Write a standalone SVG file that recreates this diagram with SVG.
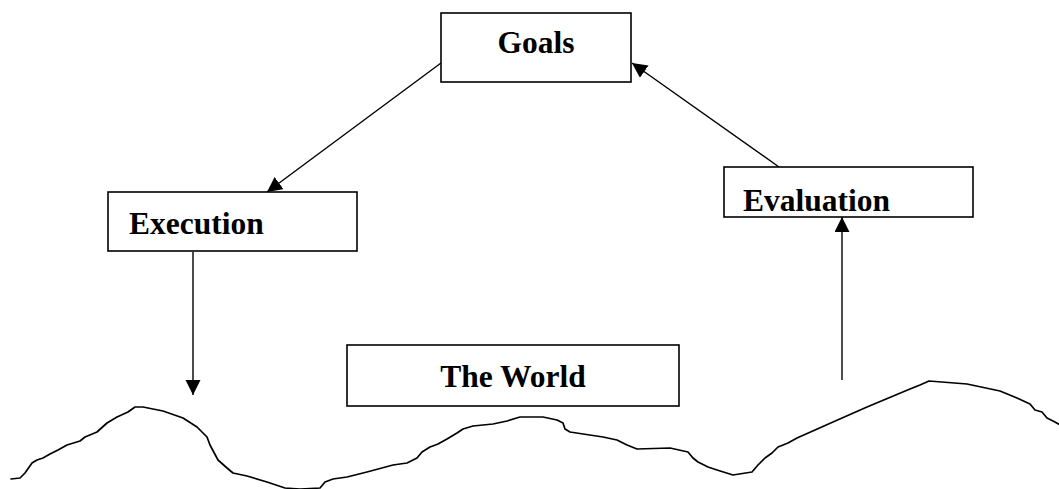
<svg xmlns="http://www.w3.org/2000/svg" width="1059" height="489" viewBox="0 0 1059 489">
  <style>
    .box { fill: #fff; stroke: #000; stroke-width: 1.6; }
    .label { font-family: "Liberation Serif", "Times New Roman", serif; font-weight: bold; font-size: 31.5px; fill: #000; }
    .conn { fill: none; stroke: #000; stroke-width: 1.4; }
    .ground { fill: none; stroke: #000; stroke-width: 1.7; stroke-linejoin: round; stroke-linecap: round; }
  </style>
  <defs>
    <marker id="arrow" markerUnits="userSpaceOnUse" markerWidth="16" markerHeight="16" refX="15" refY="7.5" orient="auto">
      <path d="M0,0 L15,7.5 L0,15 Z" fill="#000"/>
    </marker>
  </defs>

  <rect width="1059" height="489" fill="#fff"/>

  <!-- ground line -->
  <path class="ground" d="M11,479 L20,478 L25,473 L32,463 L37,460 L43,458 L50,454 L58,450 L67,445 L80,441 L85,437 L97,432 L107,423 L117,417 L128,412 L135,407 L143,407 L163,411 L183,418 L197,427 L207,437 L210,445 L218,460 L227,468 L233,473 L247,476 L267,482 L285,488 L300,489 L320,488 L325,482 L333,479 L347,477 L367,472 L393,465 L407,463 L417,458 L422,452 L430,447 L438,444 L447,439 L457,433 L463,429 L473,426 L493,424 L507,421 L520,417 L543,417 L557,420 L563,423 L565,429 L570,432 L603,437 L617,440 L627,445 L637,449 L670,448 L688,452 L693,458 L698,462 L708,467 L717,470 L733,475 L752,472 L758,465 L765,458 L772,453 L778,447 L788,443 L797,438 L833,422 L867,407 L910,389 L920,385 L929,381 L967,384 L1000,391 L1017,398 L1030,404 L1035,410 L1042,412 L1047,418 L1053,421 L1062,426"/>

  <g id="connectors">
    <line class="conn" x1="441" y1="63" x2="267" y2="192" marker-end="url(#arrow)"/>
    <line class="conn" x1="779" y1="167" x2="632" y2="63" marker-end="url(#arrow)"/>
    <line class="conn" x1="193" y1="252" x2="193" y2="395" marker-end="url(#arrow)"/>
    <line class="conn" x1="842" y1="380" x2="842" y2="217" marker-end="url(#arrow)"/>
  </g>

  <g id="goals">
    <rect class="box" x="441" y="13" width="190" height="69"/>
    <text class="label" x="536" y="53" text-anchor="middle">Goals</text>
  </g>

  <g id="execution">
    <rect class="box" x="108" y="192" width="249" height="59"/>
    <text class="label" x="129" y="234">Execution</text>
  </g>

  <g id="evaluation">
    <rect class="box" x="724" y="167" width="249" height="50"/>
    <text class="label" x="743" y="211">Evaluation</text>
  </g>

  <g id="world">
    <rect class="box" x="347" y="345" width="332" height="61"/>
    <text class="label" x="513" y="387" text-anchor="middle">The World</text>
  </g>
</svg>
